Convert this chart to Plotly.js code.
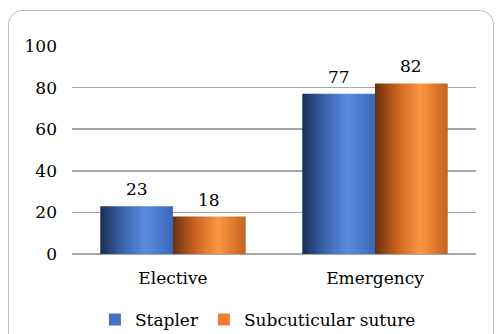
<!DOCTYPE html>
<html><head><meta charset="utf-8">
<script src="https://cdn.plot.ly/plotly-3.0.1.min.js"></script>
<style>
html,body{margin:0;padding:0;background:#fff;}
#wrap{position:relative;width:496px;height:334px;overflow:hidden;}
#frame{position:absolute;left:8px;top:10px;width:486px;height:340px;border:1px solid #bdbdbd;border-radius:14px;pointer-events:none;box-sizing:border-box;}
</style></head>
<body><div id="wrap"><div id="chart" style="width:496px;height:334px;"></div><div id="frame"></div></div>
<script>
const categories = ["Elective", "Emergency"];
const seriesNames = ["Stapler", "Subcuticular suture"];
const stapler = [23, 77];
const subcuticular = [18, 82];
const tickVals = [0, 20, 40, 60, 80, 100];

const colors = ["#4472c4", "#ed7d31"];
const gradIds = ["gBlue", "gOrange"];
const bargap = 0.28;
const font = "DejaVu Serif";
const fs = 17;

const data = [stapler, subcuticular].map((vals, i) => ({
  type: "bar", name: seriesNames[i], x: categories, y: vals,
  marker: {color: colors[i], line: {width: 0}},
  hoverinfo: "none"
}));

const annotations = [];
const bw = (1 - bargap) / 2;
[stapler, subcuticular].forEach((vals, i) => {
  vals.forEach((v, j) => {
    annotations.push({
      x: j + (i === 0 ? -bw / 2 : bw / 2), y: v, xref: "x", yref: "y",
      text: String(v), showarrow: false, yanchor: "bottom", yshift: 5,
      font: {family: font, size: fs, color: "#000"}
    });
  });
});

const layout = {
  width: 496, height: 334,
  margin: {l: 72, r: 20, t: 46, b: 80},
  paper_bgcolor: "#fff", plot_bgcolor: "#fff",
  barmode: "group", bargap: bargap, bargroupgap: 0,
  font: {family: font, size: fs, color: "#000"},
  xaxis: {type: "category", showgrid: false, zeroline: false, showline: false,
          ticks: "", tickfont: {family: font, size: fs, color: "#000"}, ticklabelstandoff: 12},
  yaxis: {range: [0, 100], tickvals: tickVals, ticktext: tickVals.map(String),
          showgrid: true, gridcolor: "#a6a6a6", gridwidth: 1.5,
          zeroline: true, zerolinecolor: "#a6a6a6", zerolinewidth: 1.5,
          showline: false, ticks: "", ticklabelstandoff: 14,
          tickfont: {family: font, size: fs, color: "#000"}, fixedrange: true},
  showlegend: true,
  legend: {orientation: "h", x: 0.52, xref: "container", xanchor: "center",
           y: 0.042, yref: "container", yanchor: "middle",
           font: {family: font, size: fs, color: "#000"}, itemwidth: 30,
           tracegroupgap: 0, traceorder: "normal", bgcolor: "rgba(0,0,0,0)"},
  annotations: annotations
};

Plotly.newPlot("chart", data, layout, {staticPlot: true, displayModeBar: false}).then(gd => {
  const svg = gd.querySelector(".main-svg");
  const ns = "http://www.w3.org/2000/svg";
  let defs = svg.querySelector("defs");
  if (!defs) { defs = document.createElementNS(ns, "defs"); svg.insertBefore(defs, svg.firstChild); }
  const stops = {
    gBlue: [[0, "#1b2d52"], [0.3, "#3a63ad"], [0.62, "#5a8ae0"], [1, "#3b68b8"]],
    gOrange: [[0, "#6a2f0e"], [0.3, "#c8631f"], [0.62, "#fb9645"], [1, "#c4621f"]]
  };
  Object.keys(stops).forEach(id => {
    const g = document.createElementNS(ns, "linearGradient");
    g.setAttribute("id", id); g.setAttribute("x1", "0"); g.setAttribute("x2", "1");
    g.setAttribute("y1", "0"); g.setAttribute("y2", "0");
    stops[id].forEach(([o, c]) => {
      const s = document.createElementNS(ns, "stop");
      s.setAttribute("offset", o); s.setAttribute("stop-color", c);
      g.appendChild(s);
    });
    defs.appendChild(g);
  });
  gd.querySelectorAll(".barlayer .trace").forEach((tr, i) => {
    tr.querySelectorAll(".point path").forEach(p => {
      p.style.fill = "url(#" + gradIds[i] + ")";
    });
  });
});
</script></body></html>
